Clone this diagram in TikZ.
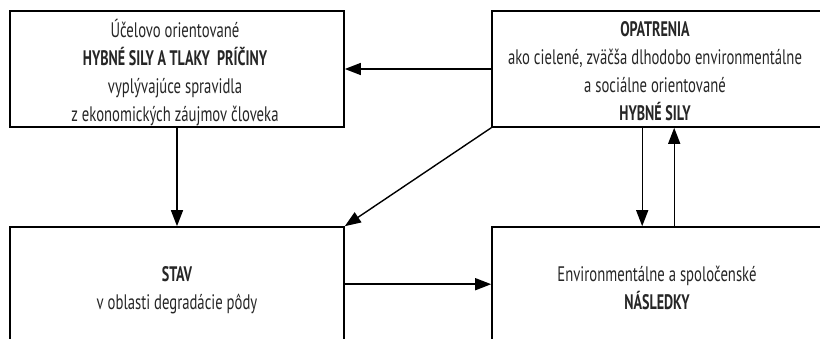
\documentclass[tikz,border=0pt]{standalone}
\usepackage{fontspec}
\setmainfont{PT Sans}[FakeStretch=0.70]
\newfontfamily\boldcond{PT Sans}[FakeStretch=0.67]
\newcommand{\hl}[1]{{\boldcond\bfseries #1}}
\usepackage{tikz}
\usetikzlibrary{arrows.meta}

\tikzset{
  box/.style={draw, line width=1.6pt, rectangle, inner sep=0pt},
  txt/.style={align=center, font=\fontsize{21}{28}\selectfont, text=black!85},
  arr/.style={line width=1.4pt, -{Triangle[length=16pt, width=12pt]}}
}

\begin{document}
\begin{tikzpicture}[x=1pt, y=-1pt]
    \useasboundingbox (0, 0) rectangle (820, 339);
    \clip (0, 0) rectangle (820, 339);

    % boxes
    \node[box, minimum width=334pt, minimum height=116pt] (hyb) at (177, 69) {};
    \node[box, minimum width=340pt, minimum height=116pt] (opat) at (662, 69) {};
    \node[box, minimum width=334pt, minimum height=140pt] (stav) at (177, 297) {};
    \node[box, minimum width=340pt, minimum height=140pt] (nasl) at (662, 297) {};

    % texts
    \node[txt] (hybtext) at (175, 73) {Účelovo orientované\\
        \hl{HYBNÉ SILY A TLAKY \ PRÍČINY}\\
        vyplývajúce spravidla\\
        z ekonomických záujmov človeka};
    \node[txt] (opattext) at (655, 71) {\hl{OPATRENIA}\\
        ako cielené, zväčša dlhodobo environmentálne\\
        a sociálne orientované\\
        \hl{HYBNÉ SILY}};
    \node[txt] (stavtext) at (177, 290) {\hl{STAV}\\
        v oblasti degradácie pôdy};
    \node[txt] (nasltext) at (657, 288) {Environmentálne a spoločenské\\
        \hl{NÁSLEDKY}};

    % arrows
    \draw[arr] (opat.west) -- (opat.west -| hyb.east);
    \draw[arr] (hyb.south) -- (stav.north);
    \draw[arr] (opat.south west) -- (stav.north east);
    \draw[arr] ([yshift=-58pt]stav.north east) -- ([yshift=-58pt]nasl.north west);
    \draw[arr] ([xshift=151pt]opat.south west) -- ([xshift=151pt]nasl.north west);
    \draw[arr] ([xshift=183pt]nasl.north west) -- ([xshift=183pt]opat.south west);
\end{tikzpicture}
\end{document}
